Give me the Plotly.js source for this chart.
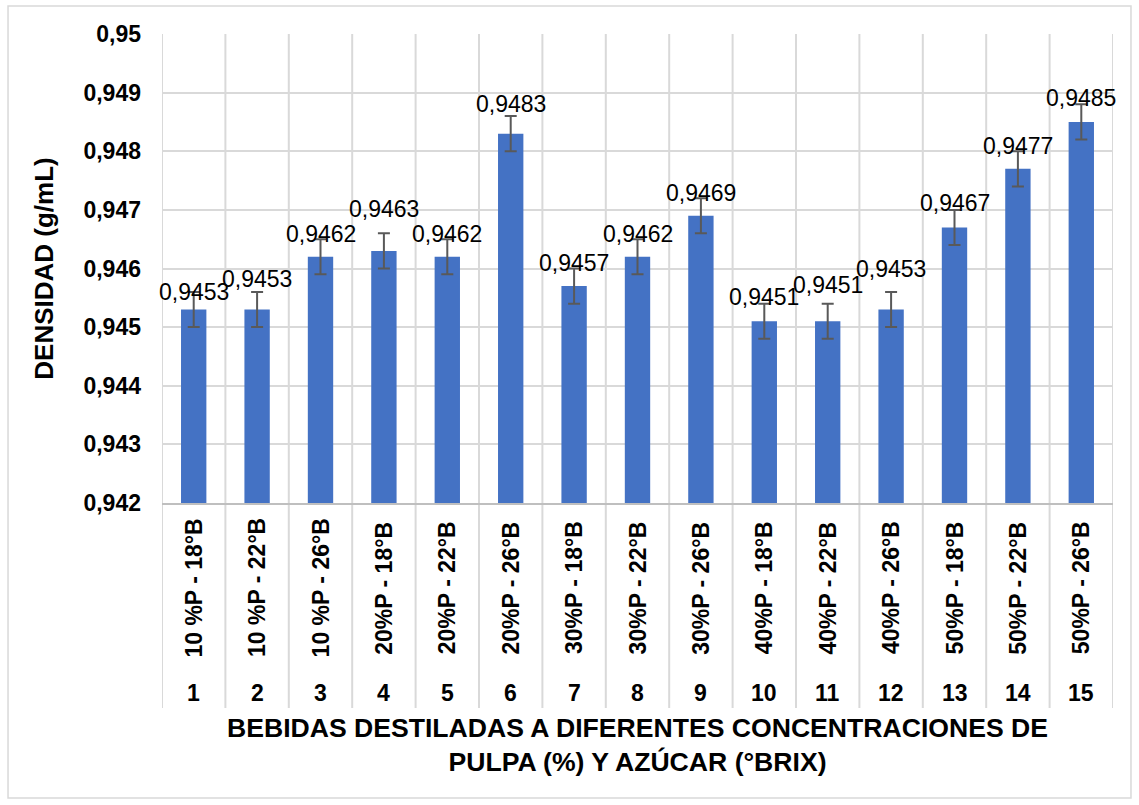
<!DOCTYPE html>
<html>
<head>
<meta charset="utf-8">
<script src="https://cdn.plot.ly/plotly-3.0.1.min.js"></script>
<style>html,body{margin:0;padding:0;background:#fff;}#chart{width:1139px;height:805px;}</style>
</head>
<body>
<div id="chart"></div>
<script>
// ---- data ----
var sampleNumbers = [1, 2, 3, 4, 5, 6, 7, 8, 9, 10, 11, 12, 13, 14, 15];
var sampleLabels = ["10 %P - 18°B", "10 %P - 22°B", "10 %P - 26°B", "20%P - 18°B", "20%P - 22°B", "20%P - 26°B",
                    "30%P - 18°B", "30%P - 22°B", "30%P - 26°B", "40%P - 18°B", "40%P - 22°B", "40%P - 26°B",
                    "50%P - 18°B", "50%P - 22°B", "50%P - 26°B"];
var density = [0.9453, 0.9453, 0.9462, 0.9463, 0.9462, 0.9483, 0.9457, 0.9462, 0.9469, 0.9451, 0.9451, 0.9453, 0.9467, 0.9477, 0.9485];
var densityError = [0.0003, 0.0003, 0.0003, 0.0003, 0.0003, 0.0003, 0.0003, 0.0003, 0.0003, 0.0003, 0.0003, 0.0003, 0.0003, 0.0003, 0.0003];
var densityText = ["0,9453", "0,9453", "0,9462", "0,9463", "0,9462", "0,9483", "0,9457", "0,9462", "0,9469", "0,9451", "0,9451", "0,9453", "0,9467", "0,9477", "0,9485"];
var yTickVals = [0.942, 0.943, 0.944, 0.945, 0.946, 0.947, 0.948, 0.949, 0.95];
var yTickText = ["0,942", "0,943", "0,944", "0,945", "0,946", "0,947", "0,948", "0,949", "0,95"];

// ---- layout tweaks (label placement, px above bar top) ----
var labelLift = [18, 31, 23, 42, 23, 30, 23, 23, 23, 24, 36, 41, 24, 23, 24];

var gridColor = '#d9d9d9';
var font = 'Arial, "Liberation Sans", sans-serif';

var trace = {
  type: 'bar',
  x: sampleNumbers,
  y: density,
  width: 0.4,
  marker: {color: '#4472C4'},
  error_y: {type: 'data', array: densityError, visible: true, color: '#595959', thickness: 2, width: 6},
  hoverinfo: 'x+y'
};

var annotations = [];
var shapes = [];
var sepBottom = -0.437;
for (var i = 0; i < sampleNumbers.length; i++) {
  annotations.push({x: sampleNumbers[i], y: density[i], xref: 'x', yref: 'y', text: densityText[i],
    showarrow: false, yanchor: 'middle', yshift: labelLift[i], font: {family: font, size: 23, color: '#000'}});
  annotations.push({x: sampleNumbers[i], y: -0.181, xref: 'x', yref: 'paper', text: sampleLabels[i],
    textangle: -90, showarrow: false, xanchor: 'center', yanchor: 'middle',
    font: {family: font, size: 23, color: '#000', weight: 'bold'}});
  annotations.push({x: sampleNumbers[i], y: -0.405, xref: 'x', yref: 'paper', text: String(sampleNumbers[i]),
    showarrow: false, xanchor: 'center', yanchor: 'middle',
    font: {family: font, size: 23, color: '#000', weight: 'bold'}});
}
for (var k = 0; k <= sampleNumbers.length; k++) {
  var xb = sampleNumbers[0] - 0.5 + k;
  shapes.push({type: 'line', xref: 'x', yref: 'paper', x0: xb, x1: xb, y0: sepBottom, y1: 1,
    line: {color: gridColor, width: 2}, layer: 'below'});
}
// outer chart border
shapes.push({type: 'rect', xref: 'paper', yref: 'paper', x0: -0.1619, x1: 1.0189, y0: -0.629, y1: 1.0597,
  line: {color: gridColor, width: 1.5}, layer: 'below'});

var layout = {
  width: 1139, height: 805,
  margin: {l: 162, r: 26, t: 34, b: 302},
  paper_bgcolor: '#fff', plot_bgcolor: '#fff',
  separators: ',.',
  showlegend: false,
  font: {family: font, color: '#000'},
  xaxis: {
    range: [0.5, 15.5], showticklabels: false, ticks: '', showgrid: false, zeroline: false,
    showline: true, linecolor: '#bfbfbf', linewidth: 2, fixedrange: true,
    title: {text: 'BEBIDAS DESTILADAS A DIFERENTES CONCENTRACIONES DE<br>PULPA (%) Y AZÚCAR (°BRIX)',
      font: {family: font, size: 26.6, color: '#000', weight: 'bold'}, standoff: 214},
    automargin: false
  },
  yaxis: {
    range: [0.942, 0.95], tickvals: yTickVals, ticktext: yTickText, ticks: '',
    showgrid: true, gridcolor: gridColor, gridwidth: 2, zeroline: false, showline: false,
    tickfont: {family: font, size: 23, color: '#000', weight: 'bold'},
    ticklabelstandoff: 20,
    title: {text: 'DENSIDAD (g/mL)', font: {family: font, size: 26, color: '#000', weight: 'bold'}, standoff: 22},
    automargin: false, fixedrange: true
  },
  annotations: annotations,
  shapes: shapes
};

Plotly.newPlot('chart', [trace], layout, {displayModeBar: false, staticPlot: true});
</script>
</body>
</html>
